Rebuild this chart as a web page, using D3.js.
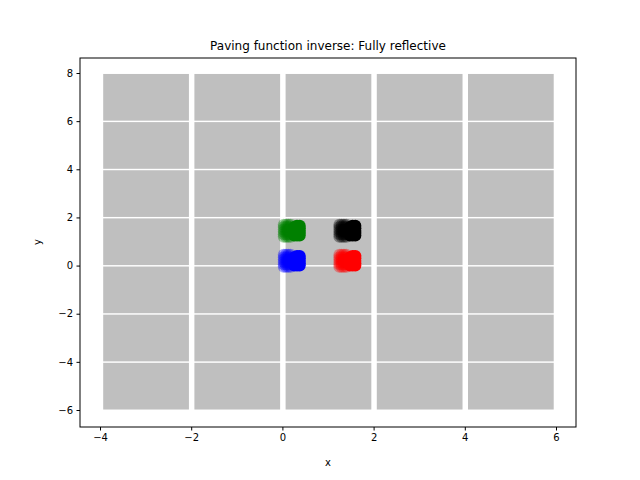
<!DOCTYPE html><html><head><script src="https://cdn.jsdelivr.net/npm/d3@7"></script>
<style>body{margin:0;background:#fff}text{font-family:"DejaVu Sans",sans-serif}</style></head><body><svg width="640" height="480"></svg>
<script>
const tileCols=[-4,-2,0,2,4];
const tileRows=[-6,-4,-2,0,2,4,6];
const xTicks=[-4,-2,0,2,4,6];
const yTicks=[-6,-4,-2,0,2,4,6,8];
const clusterNames=["blue","green","red","black"];
const clusterX=[0,0,1.22,1.22];
const clusterY=[-0.05,1.2,-0.05,1.2];
const fadedDx=[0.03,0.08,0.13,0.18];
const solidDx=[0.26,0.32,0.38];
const solidDy=[0.05,0.15,0.25,0.35,0.45];
const fadedDy=[0,0.1,0.2,0.3,0.4,0.5];
const svg=d3.select("svg");
const x=d3.scaleLinear().domain([-4,6]).range([100,556]);
const y=d3.scaleLinear().domain([-6,8]).range([410,73]);
const L=80,R=576,T=58,B=427;
const g=svg.append("g");
tileCols.forEach(c=>tileRows.forEach(r=>{
 g.append("rect").attr("x",x(c+0.07)).attr("y",y(r+1.96)).attr("width",x(c+1.95)-x(c+0.07)).attr("height",y(r+0.02)-y(r+1.96)).attr("fill","#bfbfbf");
}));
clusterNames.forEach((col,i)=>{
 fadedDx.forEach(dx=>fadedDy.forEach(dy=>g.append("circle").attr("cx",x(clusterX[i]+dx)).attr("cy",y(clusterY[i]+dy)).attr("r",6).attr("fill",col).attr("opacity",0.35)));
 solidDx.forEach(dx=>solidDy.forEach(dy=>g.append("circle").attr("cx",x(clusterX[i]+dx)).attr("cy",y(clusterY[i]+dy-0.05*(dx<0.3&&dy>0.4?1:0))).attr("r",6).attr("fill",col)));
});
svg.append("rect").attr("x",L).attr("y",T).attr("width",R-L).attr("height",B-T).attr("fill","none").attr("stroke","#000").attr("stroke-width",1);
const xa=svg.append("g").attr("transform",`translate(0,${B})`).call(d3.axisBottom(x).tickValues(xTicks).tickSize(3.5).tickPadding(3.5).tickFormat(d=>d<0?"−"+(-d):d));
const ya=svg.append("g").attr("transform",`translate(${L},0)`).call(d3.axisLeft(y).tickValues(yTicks).tickSize(3.5).tickPadding(3.5).tickFormat(d=>d<0?"−"+(-d):d));
[xa,ya].forEach(a=>{a.select(".domain").remove();a.selectAll("text").attr("font-size",10).attr("font-family","DejaVu Sans").attr("fill","#000");});
svg.append("text").attr("x",328).attr("y",466).attr("text-anchor","middle").attr("font-size",10).text("x");
svg.append("text").attr("transform","translate(41,242) rotate(-90)").attr("text-anchor","middle").attr("font-size",10).text("y");
svg.append("text").attr("x",328).attr("y",50).attr("text-anchor","middle").attr("font-size",12).text("Paving function inverse: Fully reflective");
</script></body></html>
